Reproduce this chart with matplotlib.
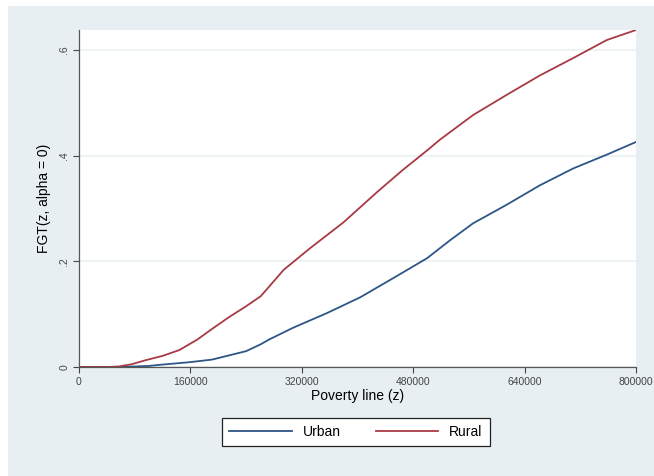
import matplotlib.pyplot as plt
from matplotlib.patches import Rectangle
from matplotlib.ticker import FuncFormatter

# poverty line values and headcount (FGT alpha=0)
z_rural = [0, 40000, 57000, 75000, 96000, 120000, 144000, 170000, 191000, 215000, 240000, 261000,
           273000, 294000, 332000, 380000, 428000, 465000, 500000, 518000, 566000, 614000,
           662000, 710000, 758000, 800000]
rural = [0, 0, 0.001, 0.005, 0.013, 0.021, 0.032, 0.052, 0.072, 0.094, 0.115, 0.134,
         0.152, 0.184, 0.225, 0.274, 0.331, 0.373, 0.410, 0.430, 0.477, 0.515,
         0.552, 0.585, 0.619, 0.638]

z_urban = [0, 60000, 80000, 100000, 115000, 158000, 191000, 240000, 261000, 273000, 307000,
           356000, 404000, 451000, 500000, 533000, 566000, 614000, 662000, 710000, 758000, 800000]
urban = [0, 0, 0.001, 0.002, 0.004, 0.009, 0.014, 0.030, 0.043, 0.052, 0.074,
         0.102, 0.132, 0.168, 0.206, 0.240, 0.272, 0.307, 0.344, 0.376, 0.402, 0.426]

x_ticks = [0, 160000, 320000, 480000, 640000, 800000]
y_ticks = [0, 0.2, 0.4, 0.6]

bg = '#e8eff2'
blue = '#2d5585'
red = '#a83a45'

plt.rcParams['font.family'] = ['Liberation Sans', 'DejaVu Sans']

fig = plt.figure(figsize=(6.54, 4.76), dpi=100, facecolor='white')
fig.patches.append(Rectangle((8 / 654, 0), 1, 1 - 6 / 476, transform=fig.transFigure,
                             facecolor=bg, edgecolor='none', zorder=-5))

ax = fig.add_axes([79 / 654, 1 - 367 / 476, (636 - 79) / 654, (367 - 30) / 476])
ax.set_facecolor('white')

ax.plot(z_urban, urban, color=blue, lw=1.3, label='Urban')
ax.plot(z_rural, rural, color=red, lw=1.3, label='Rural')

ax.set_xlim(0, 800000)
ax.set_ylim(0, 0.638)
ax.set_xticks(x_ticks)
ax.set_xticklabels([str(v) for v in x_ticks])
ax.set_yticks(y_ticks)
ax.yaxis.set_major_formatter(FuncFormatter(lambda v, p: '0' if v == 0 else ('%.1f' % v).lstrip('0')))
for lab in ax.get_yticklabels():
    lab.set_rotation(90)
    lab.set_va('center')

ax.grid(axis='y', color='#eaf1f3', lw=1.2)
ax.set_axisbelow(True)
for s in ['top', 'right']:
    ax.spines[s].set_visible(False)
for s in ['left', 'bottom']:
    ax.spines[s].set_color('#555555')
    ax.spines[s].set_linewidth(0.9)
ax.tick_params(colors='#444444', labelsize=7.5, length=4, width=0.8)
ax.tick_params(axis='y', pad=3)

ax.set_xlabel('Poverty line (z)', fontsize=10, labelpad=1)
ax.set_ylabel('FGT(z, alpha = 0)', fontsize=10, labelpad=6)

leg = fig.legend(loc='center', bbox_to_anchor=(356 / 654, 1 - 432 / 476), ncol=2,
                 fontsize=10, handlelength=4.5, columnspacing=2.5, frameon=True,
                 fancybox=False, edgecolor='#222222', borderpad=0.5, framealpha=1)
leg.get_frame().set_linewidth(0.9)
leg.get_frame().set_facecolor('white')

fig.savefig('out.png', dpi=100, facecolor=fig.get_facecolor())
